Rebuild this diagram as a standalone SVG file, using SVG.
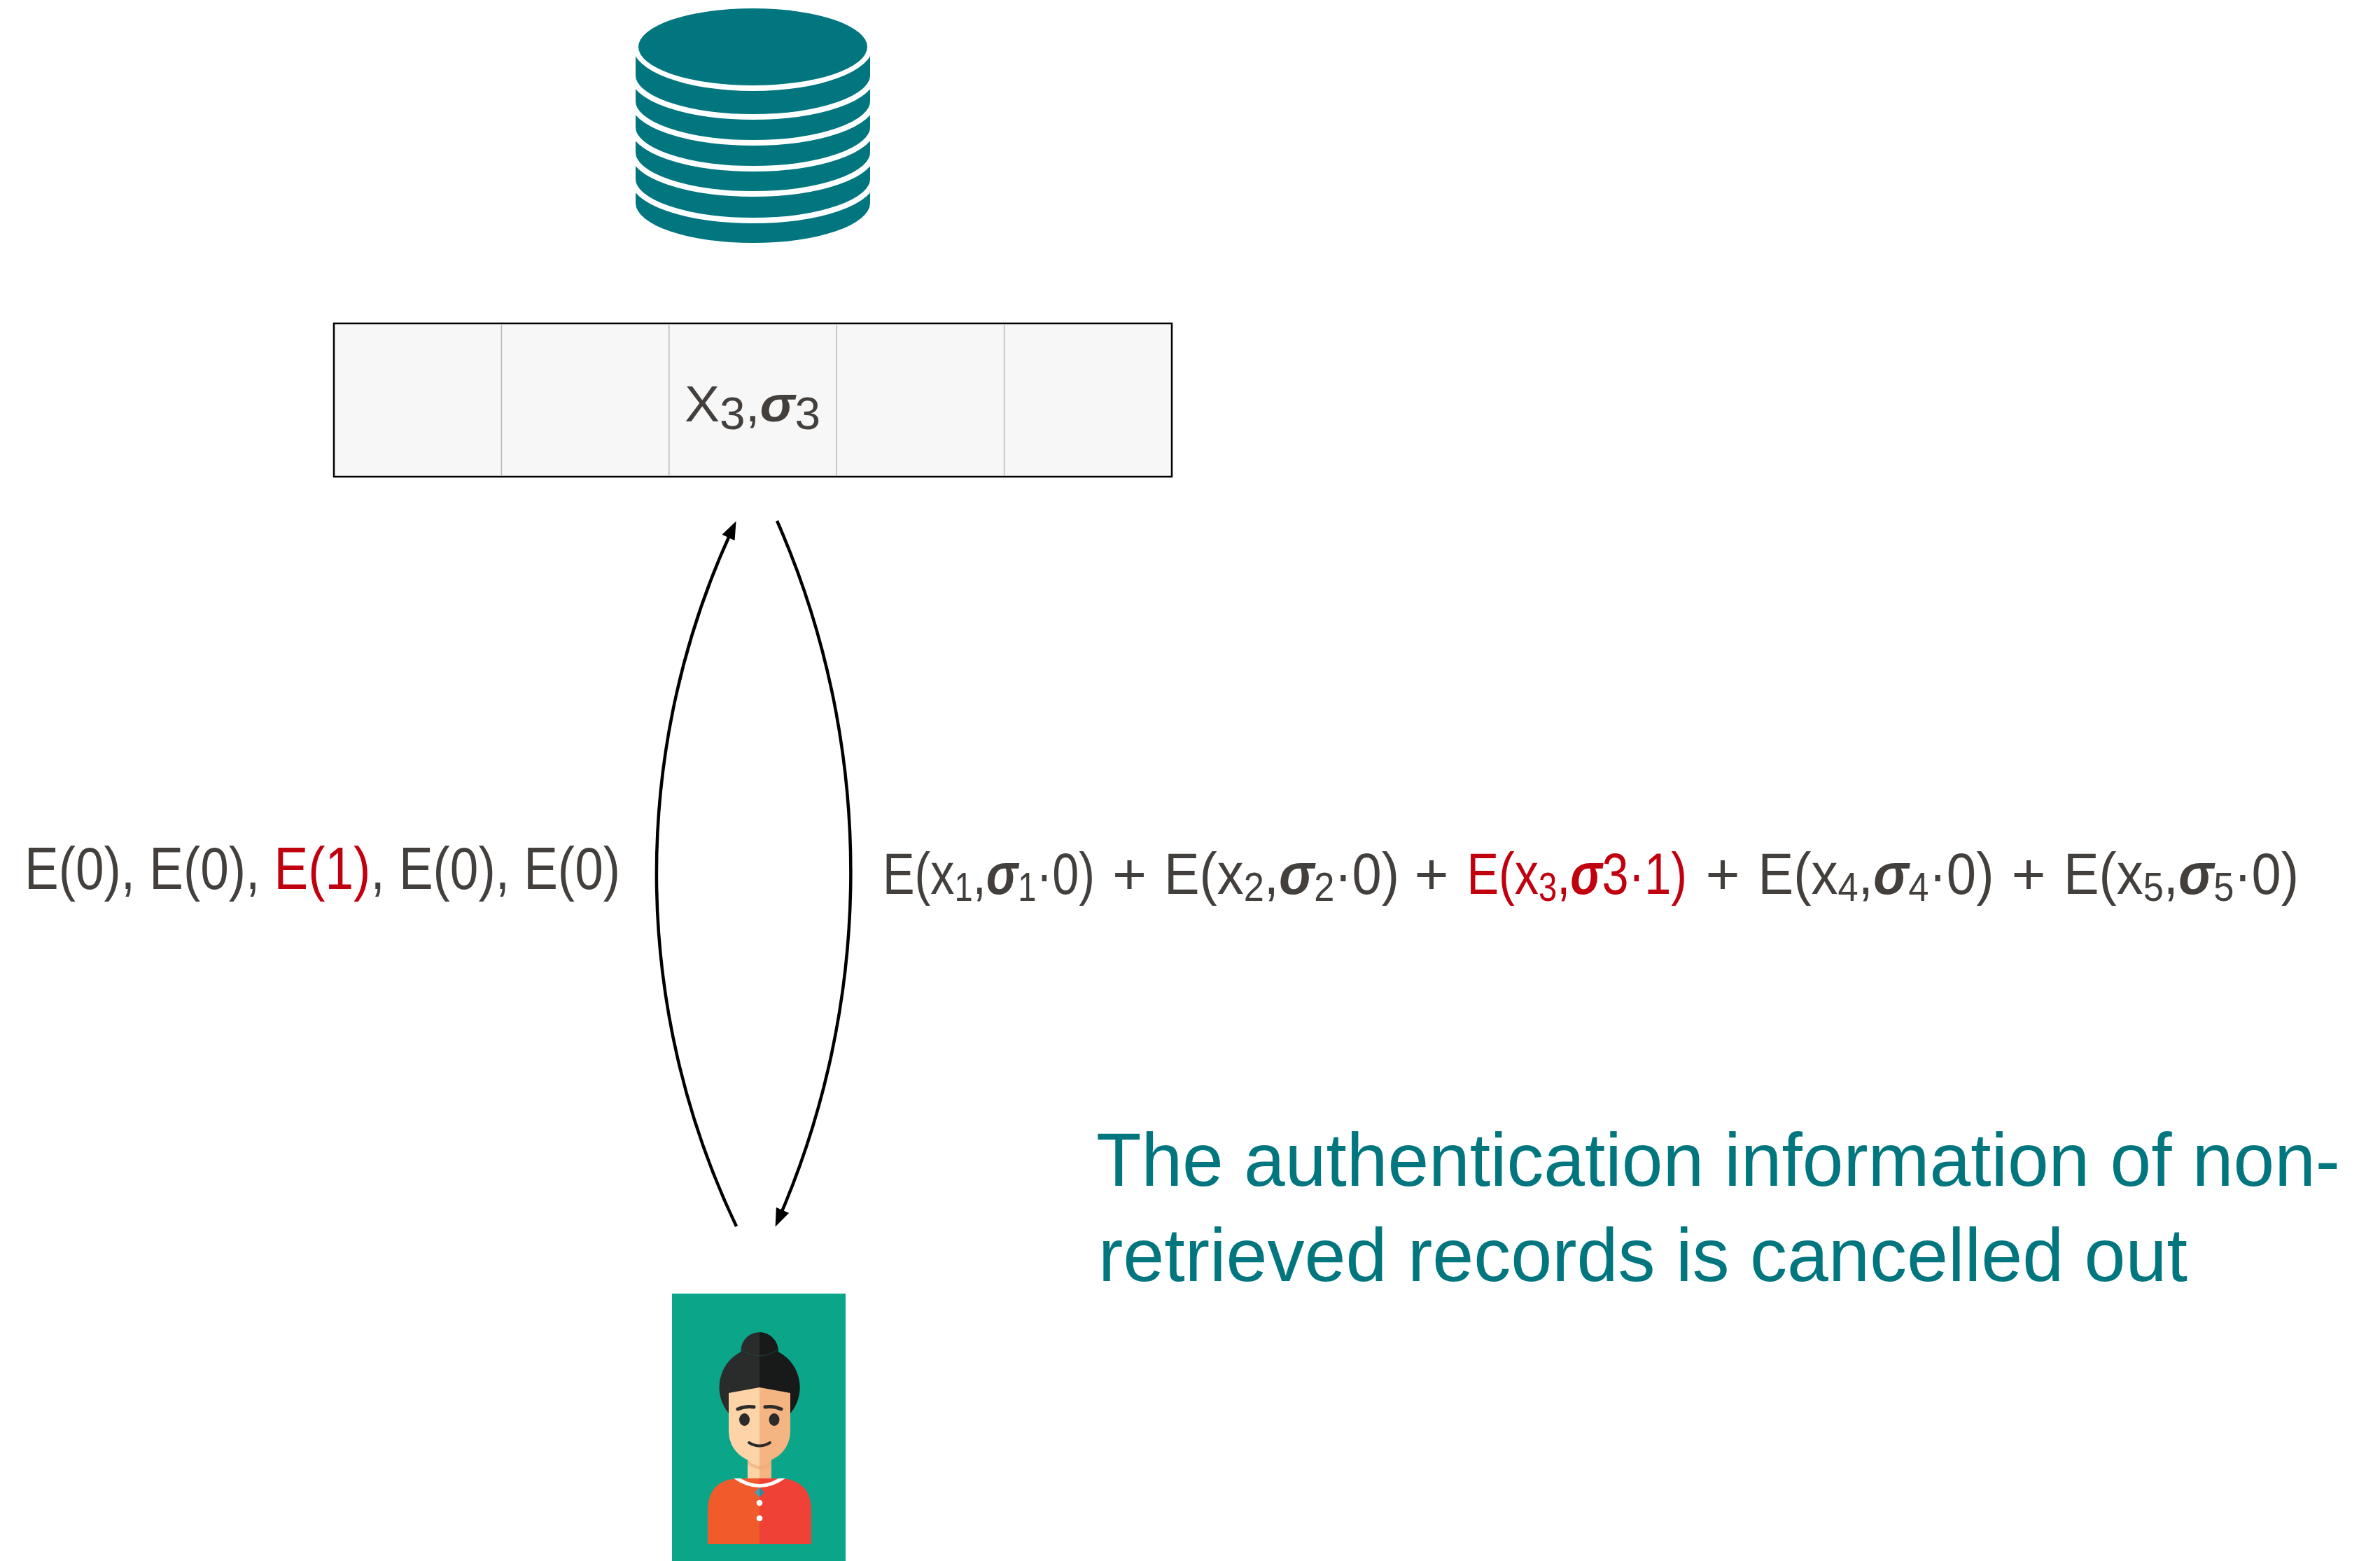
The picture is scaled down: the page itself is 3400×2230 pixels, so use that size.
<svg xmlns="http://www.w3.org/2000/svg" width="3400" height="2230" viewBox="0 0 3400 2230">
  <style>
    .txt { font-family: "Liberation Sans", Arial, sans-serif; fill: #433f3c; }
    .red { fill: #c1000f; }
    .teal { font-family: "Liberation Sans", Arial, sans-serif; fill: #02767f; font-size: 107px; }
    .sg { font-style: italic; font-weight: bold; }
    .db { fill: #02767f; }
    .sep { fill: none; stroke: #ffffff; stroke-width: 8; }
    .cell { fill: none; stroke: #b8b8b8; stroke-width: 1.5; }
    .conn { fill: none; stroke: #000000; stroke-width: 4.5; marker-end: url(#arrow); }
  </style>
  <defs>
    <marker id="arrow" markerUnits="userSpaceOnUse" markerWidth="28" markerHeight="22" refX="20" refY="10" orient="auto">
      <path d="M0,0 L26,10 L0,20 Z" fill="#000000"/>
    </marker>
  </defs>
  <rect width="3400" height="2230" fill="#ffffff"/>

  <!-- database cylinder -->
  <g id="database">
    <path class="db" d="M908,67 L908,290 A167.5 57 0 0 0 1243,290 L1243,67 Z"/>
    <ellipse cx="1075.5" cy="67" rx="171.5" ry="63" fill="#ffffff"/>
    <ellipse class="db" cx="1075.5" cy="67" rx="163.5" ry="55"/>
    <path class="sep" d="M904,108 A171.5 59 0 0 0 1247,108"/>
    <path class="sep" d="M904,145 A171.5 59 0 0 0 1247,145"/>
    <path class="sep" d="M904,182 A171.5 59 0 0 0 1247,182"/>
    <path class="sep" d="M904,218 A171.5 59 0 0 0 1247,218"/>
    <path class="sep" d="M904,256 A171.5 59 0 0 0 1247,256"/>
  </g>

  <!-- record table -->
  <g id="table">
    <rect x="477" y="462" width="1197" height="219" fill="#f7f7f7" stroke="#000000" stroke-width="2.5"/>
    <line class="cell" x1="716.4" y1="463.5" x2="716.4" y2="679.5"/>
    <line class="cell" x1="955.8" y1="463.5" x2="955.8" y2="679.5"/>
    <line class="cell" x1="1195.2" y1="463.5" x2="1195.2" y2="679.5"/>
    <line class="cell" x1="1434.6" y1="463.5" x2="1434.6" y2="679.5"/>
    <text class="txt" x="978" y="602" font-size="73" textLength="194" lengthAdjust="spacingAndGlyphs">X<tspan dy="11" font-size="64">3</tspan><tspan dy="-11">,</tspan><tspan class="sg">σ</tspan><tspan dy="11" font-size="64">3</tspan></text>
  </g>

  <!-- query / response connectors -->
  <g id="connectors">
    <path class="conn" d="M1052,1752 A1171 1171 0 0 1 1049,750"/>
    <path class="conn" d="M1110,744 A1246 1246 0 0 1 1110,1747"/>
  </g>

  <!-- query vector -->
  <g id="query">
    <text class="txt" x="35" y="1270" font-size="85" textLength="851" lengthAdjust="spacingAndGlyphs">E(0), E(0), <tspan class="red">E(1)</tspan>, E(0), E(0)</text>
  </g>

  <!-- response sum -->
  <g id="response" font-size="84">
    <text class="txt" x="1261" y="1277" textLength="303" lengthAdjust="spacingAndGlyphs">E(x<tspan dy="10" font-size="58">1</tspan><tspan dy="-10">,</tspan><tspan class="sg">σ</tspan><tspan dy="10" font-size="58">1</tspan><tspan dy="-10">·0)</tspan></text>
    <text class="txt" x="1613.6" y="1277" text-anchor="middle">+</text>
    <text class="txt" x="1663" y="1277" textLength="336" lengthAdjust="spacingAndGlyphs">E(x<tspan dy="10" font-size="58">2</tspan><tspan dy="-10">,</tspan><tspan class="sg">σ</tspan><tspan dy="10" font-size="58">2</tspan><tspan dy="-10">·0)</tspan></text>
    <text class="txt" x="2045" y="1277" text-anchor="middle">+</text>
    <text class="txt red" x="2095.5" y="1277" textLength="314.5" lengthAdjust="spacingAndGlyphs">E(x<tspan dy="10" font-size="58">3</tspan><tspan dy="-10">,</tspan><tspan class="sg">σ</tspan>3·1)</text>
    <text class="txt" x="2461" y="1277" text-anchor="middle">+</text>
    <text class="txt" x="2511.5" y="1277" textLength="337" lengthAdjust="spacingAndGlyphs">E(x<tspan dy="10" font-size="58">4</tspan><tspan dy="-10">,</tspan><tspan class="sg">σ</tspan><tspan dy="10" font-size="58">4</tspan><tspan dy="-10">·0)</tspan></text>
    <text class="txt" x="2898" y="1277" text-anchor="middle">+</text>
    <text class="txt" x="2948" y="1277" textLength="336" lengthAdjust="spacingAndGlyphs">E(x<tspan dy="10" font-size="58">5</tspan><tspan dy="-10">,</tspan><tspan class="sg">σ</tspan><tspan dy="10" font-size="58">5</tspan><tspan dy="-10">·0)</tspan></text>
  </g>

  <!-- note -->
  <g id="note">
    <text class="teal" x="1566" y="1694" textLength="1777" lengthAdjust="spacingAndGlyphs">The authentication information of non-</text>
    <text class="teal" x="1569" y="1830" textLength="1556" lengthAdjust="spacingAndGlyphs">retrieved records is cancelled out</text>
  </g>

  <!-- user avatar -->
  <g id="user">
    <rect x="960" y="1848" width="248" height="382" fill="#0ba689"/>
    <!-- hair -->
    <circle cx="1085" cy="1982" r="57.5" fill="#2a2b2b"/>
    <path d="M1085,1924.5 A57.5 57.5 0 0 1 1085,2039.5 Z" fill="#181919"/>
    <circle cx="1085" cy="1930" r="26.7" fill="#2a2b2b"/>
    <path d="M1085,1903.3 A26.7 26.7 0 0 1 1085,1956.7 Z" fill="#181919"/>
    <path d="M1059,1928 Q1085,1946 1111,1928" fill="none" stroke="#1f4d48" stroke-width="0.8"/>
    <!-- neck -->
    <rect x="1068" y="2075" width="17" height="42" fill="#fdd3a8"/>
    <rect x="1085" y="2075" width="17" height="42" fill="#f4b583"/>
    <path d="M1068,2086 Q1085,2102 1102,2086 L1102,2096 Q1085,2104 1068,2092 Z" fill="#f0a878" opacity="0.6"/>
    <!-- face -->
    <path d="M1041,1990 L1085,1982 L1085,2089 A44 44 0 0 1 1041,2045 Z" fill="#fdd3a8"/>
    <path d="M1085,1982 L1129,1990 L1129,2045 A44 44 0 0 1 1085,2089 Z" fill="#f4b583"/>
    <path d="M1054,2013 Q1066,2008 1077,2010" fill="none" stroke="#2b2b2b" stroke-width="5" stroke-linecap="round"/>
    <path d="M1093,2010 Q1105,2008 1116,2013" fill="none" stroke="#2b2b2b" stroke-width="5" stroke-linecap="round"/>
    <ellipse cx="1063.5" cy="2028" rx="7.5" ry="9" fill="#2b2b2b"/>
    <ellipse cx="1106" cy="2028" rx="7.5" ry="9" fill="#2b2b2b"/>
    <path d="M1070,2061 Q1085,2070 1100,2061" fill="none" stroke="#2b2b2b" stroke-width="4" stroke-linecap="round"/>
    <!-- shirt -->
    <path d="M1011,2206 L1011,2158 Q1011,2116 1052,2112 L1085,2112 L1085,2206 Z" fill="#f15a2a"/>
    <path d="M1085,2112 L1118,2112 Q1159,2116 1159,2158 L1159,2206 L1085,2206 Z" fill="#ef4136"/>
    <path d="M1048,2112 Q1085,2138 1122,2112 L1112,2112 Q1085,2128 1058,2112 Z" fill="#ffffff"/>
    <path d="M1085,2125 L1078,2132 L1085,2139 Z" fill="#4da0b0"/>
    <path d="M1085,2125 L1092,2132 L1085,2139 Z" fill="#2e8a98"/>
    <circle cx="1085" cy="2147" r="4.3" fill="#ffffff"/>
    <circle cx="1085" cy="2169" r="4.3" fill="#ffffff"/>
  </g>
</svg>
